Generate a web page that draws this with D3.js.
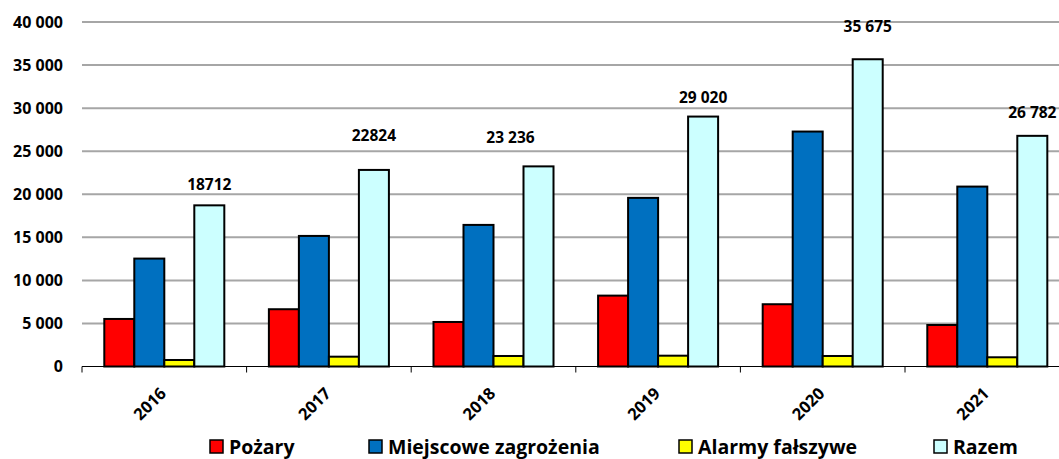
<!DOCTYPE html>
<html>
<head>
<meta charset="utf-8">
<script src="https://cdn.jsdelivr.net/npm/d3@7"></script>
<style>
  body { margin: 0; background: #fff; }
  svg { display: block; font-family: "Open Sans", sans-serif; font-weight: bold; }
</style>
</head>
<body>
<div class="chart"></div>
<script>
// data
var years = ["2016", "2017", "2018", "2019", "2020", "2021"];
var seriesNames = ["Pożary", "Miejscowe zagrożenia", "Alarmy fałszywe", "Razem"];
var pozary = [5520, 6650, 5170, 8230, 7230, 4820];
var miejscowe = [12530, 15160, 16440, 19580, 27280, 20890];
var alarmy = [755, 1140, 1220, 1255, 1220, 1070];
var razem = [18712, 22824, 23236, 29020, 35675, 26782];
var razemLabels = ["18712", "22824", "23 236", "29 020", "35 675", "26 782"];
var yTicks = [0, 5000, 10000, 15000, 20000, 25000, 30000, 35000, 40000];

// layout only: manual nudges of the total labels, like in the source chart
var labelLift = [21, 34, 29, 19, 33, 23];
var labelShift = [0, 0, -28, 0, 0, 0];

var colors = ["#ff0000", "#0070c0", "#ffff00", "#ccffff"];
var values = [pozary, miejscowe, alarmy, razem];

var w = 1059, h = 459;
var padL = 82, padT = 22, baseY = 366.5;
var svg = d3.select('.chart').append('svg')
    .attr('width', w).attr('height', h);

var x0 = d3.scaleBand().domain(years).range([padL, padL + 6 * 164.6]).padding(0);
var x1 = d3.scaleBand().domain(seriesNames).range([0, x0.bandwidth()])
    .paddingInner(0).paddingOuter(0.743);
var y = d3.scaleLinear().domain([0, 40000]).range([baseY, padT]);

var fmt = function(v){ return d3.format(",")(v).replace(/,/g, " "); };

// gridlines
svg.append('g').selectAll('line')
    .data(yTicks.filter(d => d > 0))
    .enter().append('line')
    .attr('x1', padL).attr('x2', w)
    .attr('y1', d => y(d)).attr('y2', d => y(d))
    .style('stroke', '#a6a6a6').style('stroke-width', 2);

// y tick labels
svg.append('g').selectAll('text')
    .data(yTicks)
    .enter().append('text')
    .attr('x', 63).attr('y', d => y(d))
    .attr('dy', '0.35em')
    .attr('text-anchor', 'end')
    .style('font-size', '16px')
    .text(fmt);

// bars
var groups = svg.append('g').selectAll('g')
    .data(years)
    .enter().append('g')
    .attr('transform', d => 'translate(' + x0(d) + ',0)');

groups.selectAll('rect')
    .data((d, i) => seriesNames.map((s, j) => ({ s: s, v: values[j][i], c: colors[j] })))
    .enter().append('rect')
    .attr('x', d => x1(d.s))
    .attr('y', d => y(d.v))
    .attr('width', x1.bandwidth())
    .attr('height', d => y(0) - y(d.v))
    .style('fill', d => d.c)
    .style('stroke', '#000')
    .style('stroke-width', 2);

// x axis
var xAxis = svg.append('g');
xAxis.append('line')
    .attr('x1', padL).attr('x2', w)
    .attr('y1', y(0)).attr('y2', y(0))
    .style('stroke', '#000').style('stroke-width', 1);
xAxis.selectAll('.tk')
    .data(years.concat(['end']))
    .enter().append('line')
    .attr('class', 'tk')
    .attr('x1', (d, i) => padL + i * x0.step())
    .attr('x2', (d, i) => padL + i * x0.step())
    .attr('y1', y(0)).attr('y2', y(0) + 6)
    .style('stroke', '#000').style('stroke-width', 1);
xAxis.selectAll('text')
    .data(years)
    .enter().append('text')
    .attr('transform', d => 'translate(' + (x0(d) + x0.bandwidth() / 2 - 4) + ',' + (y(0) + 21) + ') rotate(-45)')
    .attr('text-anchor', 'end')
    .attr('dy', '0.6em')
    .style('font-size', '16.5px')
    .text(d => d);

// total labels
svg.append('g').selectAll('text')
    .data(years)
    .enter().append('text')
    .attr('x', (d, i) => x0(d) + x1('Razem') + x1.bandwidth() / 2 + labelShift[i])
    .attr('y', (d, i) => y(razem[i]) - labelLift[i])
    .attr('dy', '0.35em')
    .attr('text-anchor', 'middle')
    .style('font-size', '15.5px')
    .text((d, i) => razemLabels[i]);

// legend
var legendX = [210, 369, 679, 934];
var legend = svg.append('g').selectAll('g')
    .data(seriesNames)
    .enter().append('g')
    .attr('transform', (d, i) => 'translate(' + legendX[i] + ',440)');
legend.append('rect')
    .attr('width', 13).attr('height', 13)
    .style('fill', (d, i) => colors[i])
    .style('stroke', '#000').style('stroke-width', 1.5);
legend.append('text')
    .attr('x', 19).attr('y', 14)
    .style('font-size', '19.5px')
    .text(d => d);
</script>
</body>
</html>
